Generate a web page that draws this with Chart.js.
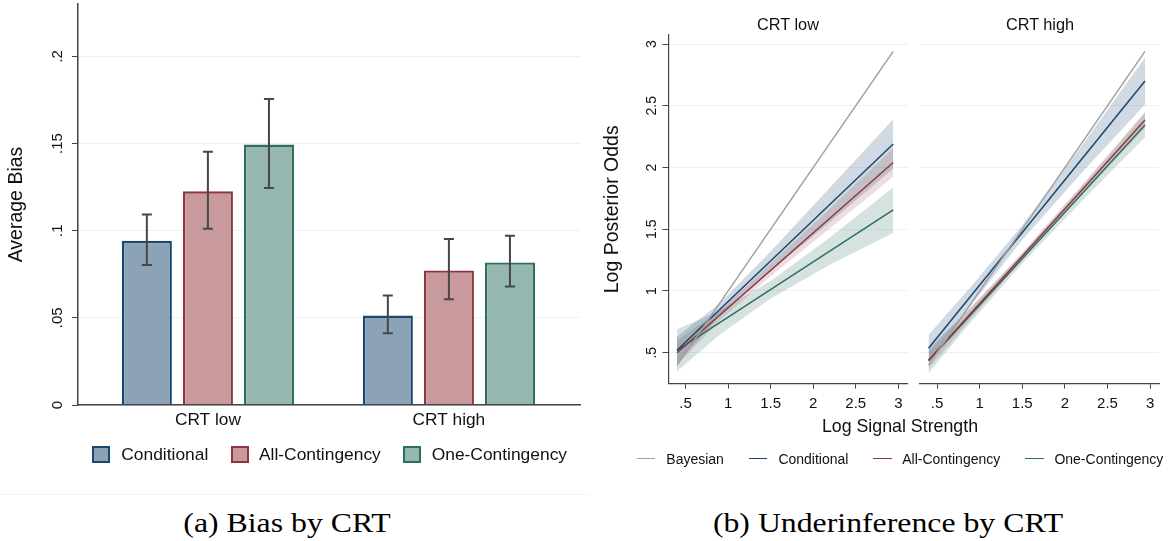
<!DOCTYPE html>
<html>
<head>
<meta charset="utf-8">
<script src="https://cdn.jsdelivr.net/npm/chart.js@4.4.1/dist/chart.umd.min.js"></script>
<style>
    body { margin: 0; background: #fff; }
    #page { position: relative; width: 1171px; height: 541px; overflow: hidden; background: #fff;
            font-family: "Liberation Sans", Arial, sans-serif; color: #111; }
    .pane { position: absolute; }
    .txt { position: absolute; white-space: nowrap; line-height: 1; }
    .cap { position: absolute; white-space: nowrap; line-height: 1; text-align: center;
           font-family: "Liberation Serif", "Times New Roman", serif; font-size: 28px; color: #000;
           transform: scaleX(1.135); }
</style>
</head>
<body>
<div id="page">
    <div class="pane" style="left:0;top:0;width:600px;height:480px"><canvas id="bias-chart"></canvas></div>
    <div class="pane" style="left:600px;top:0;width:315px;height:480px"><canvas id="low-chart"></canvas></div>
    <div class="pane" style="left:915px;top:0;width:256px;height:480px"><canvas id="high-chart"></canvas></div>

    <div class="txt" style="left:688px;width:200px;top:16px;text-align:center;font-size:16.3px">CRT low</div>
    <div class="txt" style="left:940px;width:200px;top:16px;text-align:center;font-size:16.3px">CRT high</div>
    <div class="txt" style="left:750px;width:300px;top:418px;text-align:center;font-size:17.8px">Log Signal Strength</div>

    <div style="position:absolute;left:0;top:494px;width:590px;height:1px;background:#f4f4f4"></div>
    <div class="cap" style="left:137px;width:300px;top:509px">(a) Bias by CRT</div>
    <div class="cap" style="left:688px;width:400px;top:509px">(b) Underinference by CRT</div>
</div>

<script>
// Panel (a): average bias by CRT group

var crtGroups = ['CRT low', 'CRT high'];
var groupPos = [0, 1];
var seriesNames = ['Conditional', 'All-Contingency', 'One-Contingency'];

var biasCond = [0.0942, 0.0513];
var biasAll = [0.1226, 0.0772];
var biasOne = [0.1494, 0.0818];

var ciLowCond = [0.0803, 0.0412];
var ciHighCond = [0.1093, 0.0628];
var ciLowAll = [0.1011, 0.0607];
var ciHighAll = [0.1452, 0.0952];
var ciLowOne = [0.1245, 0.0680];
var ciHighOne = [0.1755, 0.0971];

var biasTicks = [0, 0.05, 0.1, 0.15, 0.2];
var biasTickText = ['0', '.05', '.1', '.15', '.2'];

// Panel (b): log posterior odds vs log signal strength

var signalTicks = [0.5, 1, 1.5, 2, 2.5, 3];
var signalTickText = ['.5', '1', '1.5', '2', '2.5', '3'];
var oddsTicks = [0.5, 1, 1.5, 2, 2.5, 3];
var oddsTickText = ['.5', '1', '1.5', '2', '2.5', '3'];

var lineX = [0.4, 2.94];
var bandX = [0.4, 0.9, 1.5, 2.2, 2.94];

// CRT low
var lowBayes = [0.4, 2.94];
var lowCond = [0.52, 2.19];
var lowAll = [0.50, 2.04];
var lowOne = [0.52, 1.656];
var lowCondDn = [0.41, 0.80, 1.16, 1.56, 1.99];
var lowCondUp = [0.63, 0.90, 1.32, 1.84, 2.39];
var lowAllDn = [0.40, 0.76, 1.12, 1.51, 1.925];
var lowAllUp = [0.60, 0.84, 1.22, 1.67, 2.155];
var lowOneDn = [0.35, 0.645, 0.94, 1.215, 1.47];
var lowOneUp = [0.69, 0.84, 1.08, 1.435, 1.84];

// CRT high
var highBayes = [0.4, 2.94];
var highCond = [0.536, 2.70];
var highAll = [0.44, 2.385];
var highOne = [0.435, 2.344];
var highCondDn = [0.426, 0.887, 1.413, 1.959, 2.51];
var highCondUp = [0.646, 1.037, 1.533, 2.179, 2.89];
var highAllDn = [0.37, 0.778, 1.252, 1.778, 2.32];
var highAllUp = [0.51, 0.868, 1.312, 1.858, 2.45];
var highOneDn = [0.335, 0.751, 1.222, 1.728, 2.244];
var highOneUp = [0.535, 0.871, 1.302, 1.848, 2.444];

var lineNames = ['Bayesian', 'Conditional', 'All-Contingency', 'One-Contingency'];

var navy = '#1a476f', maroon = '#90353b', teal = '#2d6e62', gray = '#a0a0a0';
var barFill = ['#8ca3b7', '#c89a9d', '#96b7b0'];
var barLine = [navy, maroon, teal];
var bandFill = ['rgba(26,71,111,0.2)', 'rgba(144,53,59,0.17)', 'rgba(45,110,98,0.2)'];
var gridColor = '#eaf2f3';
var axisColor = '#444';
var fontFam = '"Liberation Sans", Arial, sans-serif';

Chart.defaults.font.family = fontFam;
Chart.defaults.color = '#111';

function toPoints(xs, ys) {
    return xs.map(function (x, i) { return { x: x, y: ys[i] }; });
}

function fixedTicks(vals) {
    return function (scale) {
        scale.ticks = vals.map(function (v) { return { value: v }; });
    };
}

// vertical (Stata style) y tick labels
var rotTicks = {
    id: 'rotTicks',
    afterDraw: function (chart, args, opts) {
        if (!opts.labels) return;
        var y = chart.scales.y, ctx = chart.ctx;
        ctx.save();
        ctx.fillStyle = '#111';
        ctx.font = opts.size + 'px ' + fontFam;
        ctx.textAlign = 'center';
        ctx.textBaseline = 'middle';
        y.ticks.forEach(function (t, i) {
            ctx.save();
            ctx.translate(opts.x, y.getPixelForValue(t.value));
            ctx.rotate(-Math.PI / 2);
            ctx.fillText(opts.labels[i], 0, 0);
            ctx.restore();
        });
        ctx.restore();
    }
};

var errorBars = {
    id: 'errorBars',
    afterDatasetsDraw: function (chart) {
        var ctx = chart.ctx, y = chart.scales.y;
        ctx.save();
        ctx.strokeStyle = '#474747';
        ctx.lineWidth = 2;
        chart.data.datasets.forEach(function (ds, di) {
            chart.getDatasetMeta(di).data.forEach(function (bar, i) {
                var top = y.getPixelForValue(ds.ciHigh[i]);
                var bot = y.getPixelForValue(ds.ciLow[i]);
                ctx.beginPath();
                ctx.moveTo(bar.x, top); ctx.lineTo(bar.x, bot);
                ctx.moveTo(bar.x - 5, top); ctx.lineTo(bar.x + 5, top);
                ctx.moveTo(bar.x - 5, bot); ctx.lineTo(bar.x + 5, bot);
                ctx.stroke();
            });
        });
        ctx.restore();
    }
};

function GetBiasChart() {
    var ctx = document.getElementById('bias-chart');
    var ciLow = [ciLowCond, ciLowAll, ciLowOne];
    var ciHigh = [ciHighCond, ciHighAll, ciHighOne];
    var values = [biasCond, biasAll, biasOne];
    var datasets = [];
    for (var s = 0; s < 3; s++) {
        datasets.push({
            label: seriesNames[s],
            data: toPoints(groupPos, values[s]),
            backgroundColor: barFill[s],
            borderColor: barLine[s],
            borderWidth: 2.4,
            ciLow: ciLow[s],
            ciHigh: ciHigh[s]
        });
    }
    new Chart(ctx, {
        type: 'bar',
        data: { datasets: datasets },
        options: {
            responsive: true,
            maintainAspectRatio: false,
            animation: false,
            devicePixelRatio: 1,
            events: [],
            layout: { padding: { left: 0, right: 20, top: 4, bottom: 0 } },
            datasets: { bar: { categoryPercentage: 0.76, barPercentage: 0.82 } },
            plugins: {
                legend: { display: false },
                tooltip: { enabled: false },
                rotTicks: { labels: biasTickText, x: 58, size: 15 }
            },
            scales: {
                x: {
                    type: 'linear', min: -0.539, max: 1.544, offset: false,
                    afterBuildTicks: fixedTicks(groupPos),
                    afterFit: function (s) { s.height = 75; },
                    grid: { display: false, drawTicks: false, offset: false },
                    border: { color: axisColor, width: 1.5, z: 1 },
                    ticks: {
                        callback: function (v, i) { return crtGroups[i]; },
                        font: { size: 17.3 }, padding: 5, maxRotation: 0, autoSkip: false
                    }
                },
                y: {
                    min: 0, max: 0.23,
                    afterBuildTicks: fixedTicks(biasTicks),
                    afterFit: function (s) { s.width = 78; },
                    grid: { color: gridColor, tickColor: axisColor, tickLength: 6, lineWidth: 1 },
                    border: { color: axisColor, width: 1.5, z: 1 },
                    ticks: { display: false },
                    title: { display: true, text: 'Average Bias', font: { size: 19.5 }, padding: { top: 5.3, bottom: 0 } }
                }
            }
        },
        plugins: [errorBars, rotTicks]
    });
}

function bandSets(lo, hi, color) {
    return [
        { data: toPoints(bandX, lo), borderWidth: 0, pointRadius: 0, fill: false, backgroundColor: color },
        { data: toPoints(bandX, hi), borderWidth: 0, pointRadius: 0, fill: '-1', backgroundColor: color }
    ];
}

function fitLine(ys, color) {
    return { data: toPoints(lineX, ys), borderColor: color, borderWidth: 1.5, pointRadius: 0, fill: false };
}

function GetOddsChart(id, lines, bands, first) {
    var datasets = []
        .concat(bandSets(bands[0], bands[1], bandFill[0]))
        .concat(bandSets(bands[2], bands[3], bandFill[1]))
        .concat(bandSets(bands[4], bands[5], bandFill[2]))
        .concat([fitLine(lines[0], gray), fitLine(lines[1], navy), fitLine(lines[2], maroon), fitLine(lines[3], teal)]);

    var yScale = {
        min: 0.25, max: 3.073,
        afterBuildTicks: fixedTicks(oddsTicks),
        ticks: { display: false }
    };
    if (first) {
        yScale.afterFit = function (s) { s.width = 68.5; };
        yScale.grid = { color: gridColor, tickColor: axisColor, tickLength: 6 };
        yScale.border = { color: axisColor, width: 1.2, z: 1 };
        yScale.title = { display: true, text: 'Log Posterior Odds', font: { size: 19.5 }, padding: { top: 1.1, bottom: 0 } };
    } else {
        yScale.afterFit = function (s) { s.width = 0; };
        yScale.grid = { color: gridColor, drawTicks: false };
        yScale.border = { display: false };
    }

    new Chart(document.getElementById(id), {
        type: 'line',
        data: { datasets: datasets },
        options: {
            responsive: true,
            maintainAspectRatio: false,
            animation: false,
            devicePixelRatio: 1,
            events: [],
            layout: { padding: first ? { left: 0, right: 7.3, top: 35, bottom: 0 } : { left: 5, right: 11.5, top: 35, bottom: 0 } },
            elements: { line: { tension: 0 } },
            plugins: {
                legend: { display: false },
                tooltip: { enabled: false },
                filler: { drawTime: 'beforeDatasetsDraw' },
                rotTicks: first ? { labels: oddsTickText, x: 51.7, size: 14 } : {}
            },
            scales: {
                x: {
                    type: 'linear', min: 0.3, max: 3.11,
                    afterBuildTicks: fixedTicks(signalTicks),
                    afterFit: function (s) { s.height = 96.4; },
                    grid: { drawOnChartArea: false, color: axisColor, tickColor: axisColor, tickLength: 5 },
                    border: { color: axisColor, width: 1.2, z: 1 },
                    ticks: {
                        callback: function (v, i) { return signalTickText[i]; },
                        font: { size: 15 }, padding: 6, maxRotation: 0, autoSkip: false
                    }
                },
                y: yScale
            }
        },
        plugins: [rotTicks]
    });
}

function addLegends() {
    var page = document.getElementById('page');
    // bar legend
    var boxLeft = [92, 230.5, 403];
    var textLeft = [121.3, 259, 431.7];
    seriesNames.forEach(function (name, i) {
        var sw = document.createElement('div');
        sw.style.cssText = 'position:absolute;left:' + boxLeft[i] + 'px;top:446px;width:14px;height:13px;' +
            'background:' + barFill[i] + ';border:2px solid ' + barLine[i];
        page.appendChild(sw);
        var t = document.createElement('div');
        t.className = 'txt';
        t.style.cssText = 'left:' + textLeft[i] + 'px;top:446.4px;font-size:17.4px';
        t.textContent = name;
        page.appendChild(t);
    });
    // line legend
    var lineLeft = [636.5, 748.6, 873, 1025.2];
    var lineText = [666.3, 778.4, 902.2, 1054.4];
    var lineCols = [gray, navy, maroon, teal];
    lineNames.forEach(function (name, i) {
        var sw = document.createElement('div');
        sw.style.cssText = 'position:absolute;left:' + lineLeft[i] + 'px;top:457.5px;width:18.5px;height:1.5px;background:' + lineCols[i];
        page.appendChild(sw);
        var t = document.createElement('div');
        t.className = 'txt';
        t.style.cssText = 'left:' + lineText[i] + 'px;top:451.5px;font-size:14px';
        t.textContent = name;
        page.appendChild(t);
    });
}

GetBiasChart();
GetOddsChart('low-chart', [lowBayes, lowCond, lowAll, lowOne],
    [lowCondDn, lowCondUp, lowAllDn, lowAllUp, lowOneDn, lowOneUp], true);
GetOddsChart('high-chart', [highBayes, highCond, highAll, highOne],
    [highCondDn, highCondUp, highAllDn, highAllUp, highOneDn, highOneUp], false);
addLegends();
</script>
</body>
</html>
